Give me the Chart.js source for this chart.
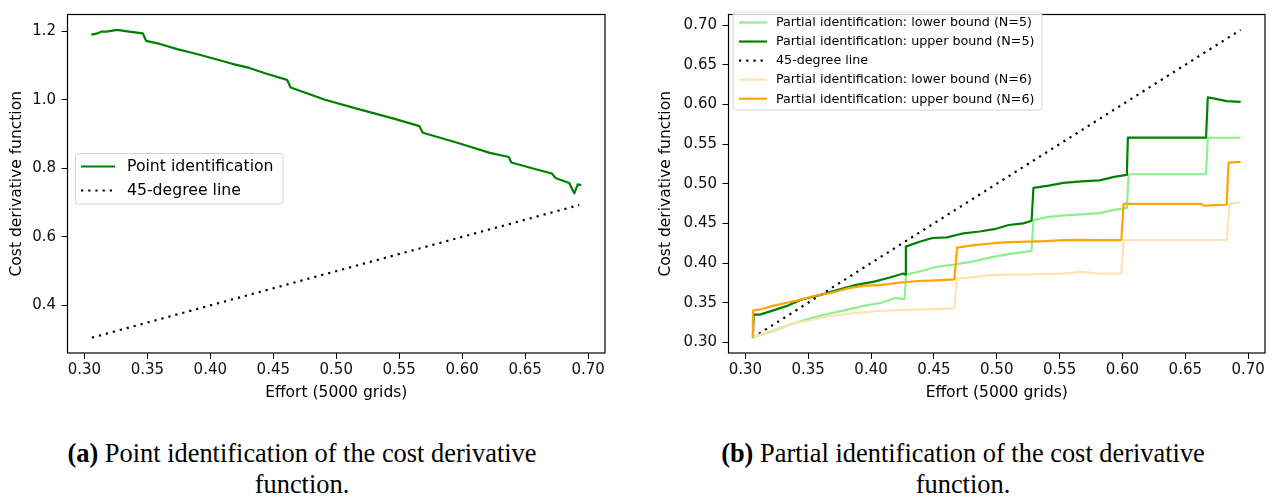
<!DOCTYPE html>
<html><head><meta charset="utf-8">
<script src="https://cdn.jsdelivr.net/npm/chart.js@4.4.1/dist/chart.umd.min.js"></script>
<style>
html,body{margin:0;padding:0;background:#fff;width:1277px;height:498px;overflow:hidden;}
#c1{position:absolute;left:0;top:0;}
#c2{position:absolute;left:650px;top:0;}
.cap{position:absolute;font-family:"Liberation Serif","Times New Roman",serif;font-size:26.4px;line-height:31px;text-align:center;color:#000;white-space:nowrap;}
</style></head><body>
<canvas id="c1" width="620" height="410"></canvas>
<canvas id="c2" width="627" height="410"></canvas>
<div class="cap" style="left:42px;width:520px;top:438px"><b>(a)</b> Point identification of the cost derivative<br>function.</div>
<div class="cap" style="left:703px;width:520px;top:438px"><b>(b)</b> Partial identification of the cost derivative<br>function.</div>
<script>
// ---- data ----
const xTicks = [0.30,0.35,0.40,0.45,0.50,0.55,0.60,0.65,0.70];
const xTickLabels = ['0.30','0.35','0.40','0.45','0.50','0.55','0.60','0.65','0.70'];
const yTicksA = [0.4,0.6,0.8,1.0,1.2];
const yTickLabelsA = ['0.4','0.6','0.8','1.0','1.2'];
const yTicksB = [0.30,0.35,0.40,0.45,0.50,0.55,0.60,0.65,0.70];
const yTickLabelsB = ['0.30','0.35','0.40','0.45','0.50','0.55','0.60','0.65','0.70'];

const pointX = [0.3055,0.3096,0.3137,0.3177,0.326,0.3355,0.3464,0.349,0.36,0.3737,0.39,0.4038,0.4174,0.431,0.4447,0.461,0.4638,0.4911,0.5184,0.5457,0.566,0.5688,0.5948,0.622,0.637,0.639,0.6577,0.6713,0.674,0.685,0.689,0.6918,0.6945];
const pointY = [1.19,1.193,1.199,1.199,1.204,1.199,1.194,1.172,1.163,1.148,1.133,1.119,1.105,1.093,1.076,1.058,1.036,1.0,0.972,0.945,0.923,0.904,0.876,0.845,0.833,0.817,0.798,0.785,0.772,0.757,0.727,0.753,0.751];
const diagXA = [0.306,0.693];
const diagYA = [0.306,0.693];

const lowerN5X = [0.306,0.3217,0.339,0.3506,0.365,0.3795,0.3939,0.4084,0.42,0.4266,0.428,0.4373,0.4517,0.4662,0.4806,0.4951,0.5095,0.5277,0.5292,0.5413,0.5529,0.5673,0.5818,0.5934,0.6035,0.6049,0.6665,0.6679,0.694];
const lowerN5Y = [0.3065,0.3142,0.3244,0.3297,0.3358,0.3407,0.346,0.35,0.3562,0.3541,0.3856,0.3888,0.395,0.3982,0.4019,0.4072,0.4113,0.4153,0.4541,0.4582,0.4602,0.4614,0.463,0.4671,0.4696,0.512,0.512,0.558,0.558];
const upperN5X = [0.306,0.3066,0.3116,0.3217,0.3332,0.3448,0.3592,0.3737,0.3882,0.4026,0.4142,0.4257,0.4272,0.4277,0.4373,0.4488,0.4604,0.472,0.4864,0.498,0.5095,0.5211,0.5277,0.5292,0.5413,0.5529,0.5673,0.5818,0.5934,0.6035,0.6043,0.6665,0.6679,0.6743,0.6829,0.694];
const upperN5Y = [0.3065,0.335,0.335,0.340,0.346,0.354,0.3595,0.3664,0.3725,0.3766,0.3815,0.3868,0.3855,0.4207,0.4263,0.4316,0.4324,0.437,0.4398,0.4427,0.448,0.45,0.4533,0.4949,0.4977,0.501,0.503,0.5042,0.5087,0.5111,0.5581,0.5581,0.609,0.607,0.6042,0.6033];
const diagXB = [0.306,0.694];
const diagYB = [0.306,0.694];
const lowerN6X = [0.306,0.3217,0.339,0.3506,0.365,0.3795,0.3939,0.4084,0.4228,0.4373,0.4517,0.4662,0.4685,0.4806,0.4951,0.5095,0.524,0.5384,0.5529,0.5673,0.5818,0.5991,0.6009,0.6829,0.6853,0.694];
const lowerN6Y = [0.3065,0.3154,0.3244,0.3276,0.3326,0.3358,0.3378,0.3399,0.3407,0.3415,0.3419,0.3427,0.3807,0.3819,0.3847,0.3855,0.3855,0.3863,0.3867,0.3888,0.3867,0.3867,0.4288,0.4288,0.4753,0.4765];
const upperN6X = [0.306,0.3061,0.313,0.3217,0.3332,0.3419,0.3535,0.3679,0.3824,0.3939,0.4084,0.4228,0.4373,0.4517,0.4662,0.4685,0.4806,0.4951,0.5095,0.524,0.5384,0.5529,0.5673,0.5818,0.5991,0.6009,0.6627,0.665,0.6829,0.6844,0.694];
const upperN6Y = [0.3065,0.340,0.342,0.346,0.350,0.353,0.3582,0.3623,0.3684,0.3713,0.3725,0.3754,0.3774,0.3782,0.3795,0.4194,0.4223,0.4247,0.4263,0.4271,0.4276,0.4288,0.4292,0.4288,0.4288,0.4745,0.4745,0.4724,0.4735,0.5267,0.5275];

// ---- helpers ----
const FONT = '"DejaVu Sans", Verdana, sans-serif';
const LW = 2.2;
const pts = (xs, ys) => xs.map((x, i) => ({x, y: ys[i]}));

const framePlugin = {
  id: 'frame',
  afterDatasetsDraw(chart) {
    const {ctx, chartArea: a} = chart;
    ctx.save();
    ctx.strokeStyle = '#000'; ctx.lineWidth = 1.2;
    ctx.strokeRect(a.left, a.top, a.right - a.left, a.bottom - a.top);
    ctx.restore();
  }
};
const legendPlugin = {
  id: 'legendBox',
  afterDraw(chart, args, o) {
    const ctx = chart.ctx;
    ctx.save();
    ctx.beginPath();
    if (ctx.roundRect) ctx.roundRect(o.x, o.y, o.w, o.h, 3); else ctx.rect(o.x, o.y, o.w, o.h);
    ctx.fillStyle = 'rgba(255,255,255,0.8)'; ctx.fill();
    ctx.strokeStyle = '#d4d4d4'; ctx.lineWidth = 1; ctx.stroke();
    chart.data.datasets.forEach((ds, i) => {
      const yy = o.row0 + i * o.step;
      ctx.beginPath();
      ctx.setLineDash(ds.borderDash || []);
      ctx.strokeStyle = ds.borderColor; ctx.lineWidth = ds.borderWidth;
      ctx.moveTo(o.s0, yy); ctx.lineTo(o.s1, yy); ctx.stroke();
      ctx.setLineDash([]);
      ctx.fillStyle = '#000'; ctx.font = o.size + 'px ' + FONT; ctx.textBaseline = 'middle'; ctx.textAlign = 'left';
      ctx.fillText(ds.label, o.tx, yy + 0.5);
    });
    ctx.restore();
  }
};

function xScale(min, max) {
  return {
    type: 'linear', min, max,
    afterBuildTicks(s) { s.ticks = xTicks.map(v => ({value: v})); },
    afterFit(s) { s.height = 57; },
    ticks: {callback: (v, i) => xTickLabels[i], font: {family: FONT, size: 15}, color: '#111', padding: 2, maxRotation: 0, autoSkip: false},
    grid: {display: true, drawOnChartArea: false, drawTicks: true, tickLength: 6, tickColor: '#000', tickWidth: 1},
    border: {display: false},
    title: {display: true, text: 'Effort (5000 grids)', font: {family: FONT, size: 15.5}, color: '#000', padding: {top: 0, bottom: 7.7}}
  };
}
function yScale(min, max, ticks, labels, width, tpad) {
  return {
    type: 'linear', min, max,
    afterBuildTicks(s) { s.ticks = ticks.map(v => ({value: v})); },
    afterFit(s) { s.width = width; },
    ticks: {callback: (v, i) => labels[i], font: {family: FONT, size: 15}, color: '#111', padding: 5.5, autoSkip: false},
    grid: {display: true, drawOnChartArea: false, drawTicks: true, tickLength: 6, tickColor: '#000', tickWidth: 1},
    border: {display: false},
    title: {display: true, text: 'Cost derivative function', font: {family: FONT, size: 15.5}, color: '#000', padding: {top: tpad, bottom: 0}}
  };
}
const common = {
  responsive: false, animation: false, devicePixelRatio: 1, events: [],
  elements: {point: {radius: 0}, line: {tension: 0, borderCapStyle: 'butt', borderJoinStyle: 'round'}}
};

// ---- chart (a) ----
new Chart(document.getElementById('c1'), {
  type: 'line',
  data: {datasets: [
    {label: 'Point identification', data: pts(pointX, pointY), borderColor: '#008000', borderWidth: LW, fill: false, order: 2},
    {label: '45-degree line', data: pts(diagXA, diagYA), borderColor: '#000', borderWidth: LW, borderDash: [2.2, 5], fill: false, order: 1}
  ]},
  options: Object.assign({}, common, {
    layout: {padding: {top: 5, right: 15, left: 0, bottom: 0}},
    scales: {x: xScale(0.2866, 0.7134), y: yScale(0.2611, 1.2489, yTicksA, yTickLabelsA, 67.5, 7.7)},
    plugins: {legend: {display: false}, tooltip: {enabled: false},
      legendBox: {x: 75.5, y: 153.5, w: 207.5, h: 50.5, row0: 166.5, step: 24, s0: 81, s1: 115, tx: 127, size: 15.7}}
  }),
  plugins: [framePlugin, legendPlugin]
});

// ---- chart (b) ----
new Chart(document.getElementById('c2'), {
  type: 'line',
  data: {datasets: [
    {label: 'Partial identification: lower bound (N=5)', data: pts(lowerN5X, lowerN5Y), borderColor: '#90ee90', borderWidth: LW, fill: false, order: 5},
    {label: 'Partial identification: upper bound (N=5)', data: pts(upperN5X, upperN5Y), borderColor: '#008000', borderWidth: LW, fill: false, order: 4},
    {label: '45-degree line', data: pts(diagXB, diagYB), borderColor: '#000', borderWidth: LW, borderDash: [2.2, 5], fill: false, order: 3},
    {label: 'Partial identification: lower bound (N=6)', data: pts(lowerN6X, lowerN6Y), borderColor: '#ffe4b2', borderWidth: LW, fill: false, order: 2},
    {label: 'Partial identification: upper bound (N=6)', data: pts(upperN6X, upperN6Y), borderColor: '#ffa500', borderWidth: LW, fill: false, order: 1}
  ]},
  options: Object.assign({}, common, {
    layout: {padding: {top: 5, right: 12, left: 0, bottom: 0}},
    scales: {x: xScale(0.2866, 0.7134), y: yScale(0.2866, 0.7134, yTicksB, yTickLabelsB, 78.5, 6.7)},
    plugins: {legend: {display: false}, tooltip: {enabled: false},
      legendBox: {x: 83, y: 12, w: 309, h: 98, row0: 22.5, step: 19.05, s0: 89, s1: 117, tx: 126, size: 12.7}}
  }),
  plugins: [framePlugin, legendPlugin]
});
</script>
</body></html>
